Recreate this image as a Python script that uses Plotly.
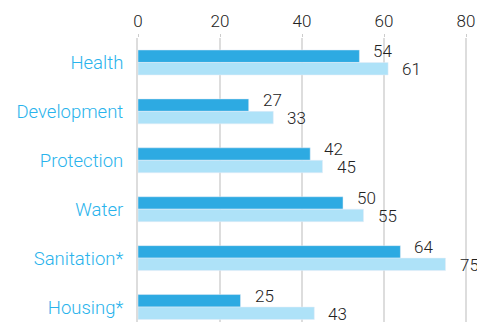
import plotly.graph_objects as go

categories = ["Health", "Development", "Protection", "Water", "Sanitation*", "Housing*"]
series_a = [54, 27, 42, 50, 64, 25]
series_b = [61, 33, 45, 55, 75, 43]
x_ticks = [0, 20, 40, 60, 80]

dark = "#2DAAE2"
light = "#AEE2F8"
positions = list(range(len(categories)))

fig = go.Figure()
fig.add_trace(go.Bar(x=series_a, y=positions, orientation="h", marker=dict(color=dark),
                     name="A", hoverinfo="x"))
fig.add_trace(go.Bar(x=series_b, y=positions, orientation="h", marker=dict(color=light),
                     name="B", hoverinfo="x"))

# value labels beside each bar end
annotations = []
for i, (a, b) in enumerate(zip(series_a, series_b)):
    annotations.append(dict(x=a, y=i, text=str(a), showarrow=False, xanchor="left",
                            xshift=12, yshift=11, font=dict(size=17, color="#222222")))
    annotations.append(dict(x=b, y=i, text=str(b), showarrow=False, xanchor="left",
                            xshift=12, yshift=-7, font=dict(size=17, color="#222222")))

font_family = "Roboto, Helvetica, Arial, sans-serif"

fig.update_layout(
    width=477, height=322,
    margin=dict(l=138, r=0, t=38, b=0),
    paper_bgcolor="white", plot_bgcolor="white",
    barmode="group", bargap=0.49, bargroupgap=0,
    showlegend=False,
    font=dict(family=font_family, weight=300),
    annotations=annotations,
)
fig.update_xaxes(
    side="top", range=[0, 82.68], tickvals=x_ticks,
    showgrid=True, gridcolor="#DDDDDD", gridwidth=2,
    zeroline=False, showline=False,
    ticks="outside", ticklen=3, tickcolor="#CCCCCC", tickwidth=1,
    tickfont=dict(size=17, color="#222222"),
)
fig.update_yaxes(
    range=[5.306, -0.5], tickvals=positions, ticktext=categories,
    showgrid=False, zeroline=False,
    showline=True, linecolor="#DDDDDD", linewidth=2,
    ticks="outside", ticklen=9, tickcolor="rgba(0,0,0,0)",
    tickfont=dict(size=18.5, color="#29B3EC"),
)
fig.update_traces(cliponaxis=False)

fig.write_html("out.html")
